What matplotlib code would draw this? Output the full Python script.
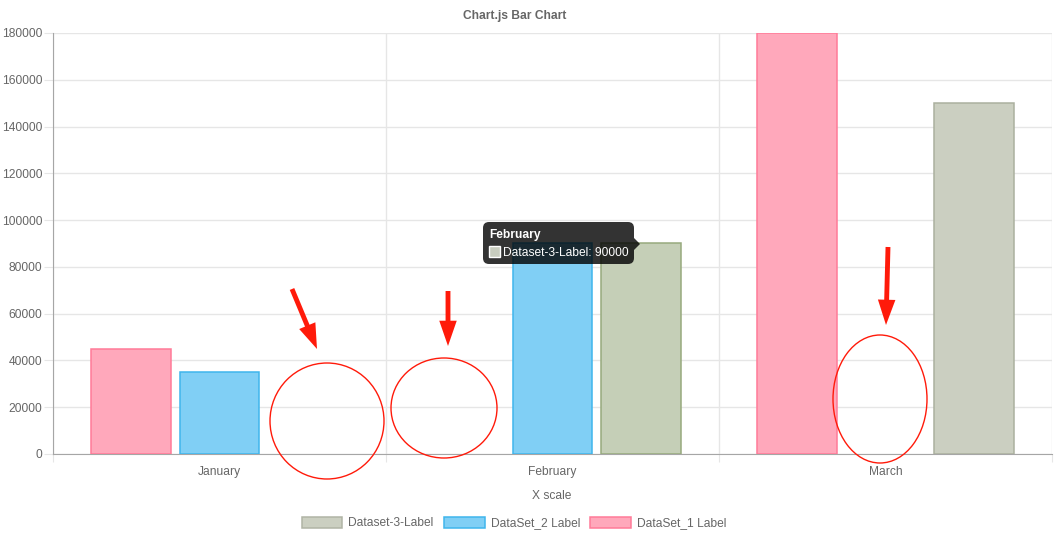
import matplotlib
matplotlib.use('Agg')
import matplotlib.pyplot as plt
import numpy as np
from matplotlib.patches import Rectangle, Ellipse, FancyBboxPatch, Polygon, FancyArrowPatch
from matplotlib.transforms import Affine2D

plt.rcParams['font.family'] = ['Liberation Sans', 'DejaVu Sans']

months = ['January', 'February', 'March']
ds1_values = [45000, None, 180000]
ds2_values = [35000, 90000, None]
ds3_values = [None, 90000, 150000]
ds1_label = 'DataSet_1 Label'
ds2_label = 'DataSet_2 Label'
ds3_label = 'Dataset-3-Label'
y_ticks = np.arange(0, 180001, 20000)

W, H = 1054, 536
txt = '#666666'
fs = 8.64  # 12px

pink_fc, pink_ec = '#ffa8bb', '#ff7b98'
blue_fc, blue_ec = '#80cff5', '#3fb5ec'
grey_fc, grey_ec = '#cbcfc1', '#abb09f'
hover_fc, hover_ec = '#c5cfb7', '#97aa7d'


def to_arr(v):
    return np.array([np.nan if a is None else a for a in v], dtype=float)


fig = plt.figure(figsize=(W / 100, H / 100), dpi=100)
ax = fig.add_axes([53 / W, 1 - 454 / H, (1052 - 53) / W, (454 - 33) / H])
# pixel coords measured from the top-left corner of the picture
px = Affine2D().scale(1, -1).translate(0, H).scale(1 / 100) + fig.dpi_scale_trans

x = np.arange(len(months))
slot = 0.8 / 3
bw = slot * 0.9

ax.bar(x - slot, to_arr(ds1_values), bw, color=pink_fc, edgecolor=pink_ec, linewidth=1.1, zorder=3)
ax.bar(x, to_arr(ds2_values), bw, color=blue_fc, edgecolor=blue_ec, linewidth=1.1, zorder=3)
bars3 = ax.bar(x + slot, to_arr(ds3_values), bw, color=grey_fc, edgecolor=grey_ec, linewidth=1.1, zorder=3)
# hovered bar (February) gets the hover colours
bars3[1].set_facecolor(hover_fc)
bars3[1].set_edgecolor(hover_ec)

ax.set_xlim(-0.5, len(months) - 0.5)
ax.set_ylim(0, 180000)
ax.set_yticks(y_ticks)
ax.set_yticklabels([str(v) for v in y_ticks])
ax.set_xticks(x)
ax.set_xticklabels(months)
ax.set_xticks(np.arange(len(months) + 1) - 0.5, minor=True)

ax.grid(axis='y', color='#e6e6e6', linewidth=1, zorder=0)
ax.grid(axis='x', which='minor', color='#e6e6e6', linewidth=1, zorder=0)
ax.tick_params(axis='y', length=6.5, width=0.8, color='#e6e6e6', pad=1, labelsize=fs, labelcolor=txt)
ax.tick_params(axis='x', which='major', length=0, pad=8.5, labelsize=fs, labelcolor=txt)
ax.tick_params(axis='x', which='minor', length=5.8, width=0.8, color='#e6e6e6')
for s in ['top', 'right']:
    ax.spines[s].set_visible(False)
for s in ['left', 'bottom']:
    ax.spines[s].set_color('#a6a6a6')
    ax.spines[s].set_linewidth(0.8)

ax.set_xlabel('X scale', fontsize=fs, color=txt, va='center')
ax.xaxis.set_label_coords(0.4995, (454 - 496) / 421)

fig.text(515 / W, 1 - 16 / H, 'Chart.js Bar Chart', ha='center', va='center',
         fontsize=fs, fontweight='bold', color=txt)

handles = [Rectangle((0, 0), 1, 1, fc=grey_fc, ec='#b0b4a5', lw=1.1),
           Rectangle((0, 0), 1, 1, fc=blue_fc, ec=blue_ec, lw=1.1),
           Rectangle((0, 0), 1, 1, fc=pink_fc, ec=pink_ec, lw=1.1)]
fig.legend(handles, [ds3_label, ds2_label, ds1_label], loc='center', ncol=3,
           bbox_to_anchor=(514 / W, 1 - 523 / H), frameon=False, fontsize=fs,
           labelcolor=txt, handlelength=3.4, handleheight=1.0, handletextpad=0.5,
           columnspacing=0.85, borderpad=0, borderaxespad=0)

# tooltip
fig.add_artist(FancyBboxPatch((483, 222), 151, 42, boxstyle='round,pad=0,rounding_size=6',
                              transform=px, fc=(0, 0, 0, 0.8), ec='none', zorder=10))
fig.add_artist(Polygon([(634, 238), (640, 244), (634, 250)], closed=True, transform=px,
                       fc=(0, 0, 0, 0.8), ec='none', zorder=10))
fig.text(489, 235, months[1], transform=px, ha='left', va='center', fontsize=fs,
         fontweight='bold', color='white', zorder=11)
fig.add_artist(Rectangle((489, 246), 11, 11, transform=px, fc='#c8cdbf', ec='white', lw=1, zorder=11))
fig.text(503, 253, '%s: %d' % (ds3_label, ds3_values[1]), transform=px, ha='left', va='center',
         fontsize=fs, color='white', zorder=11)

# red hand-drawn marks
for cx, cy, w, h in [(327, 421, 114, 116), (444, 408, 106, 100), (880, 399, 94, 128)]:
    fig.add_artist(Ellipse((cx, cy), w, h, transform=px, fill=False, ec='#ff1a0a', lw=1.0, zorder=12))
for (x0, y0), (x1, y1) in [((292, 289), (317, 349)), ((448, 291), (448, 346)), ((888, 247), (886, 325))]:
    fig.add_artist(FancyArrowPatch((x0, y0), (x1, y1), transform=px,
                                   arrowstyle='simple,head_length=1.3,head_width=0.9,tail_width=0.25',
                                   mutation_scale=14, fc='#ff1a0a', ec='none', shrinkA=0, shrinkB=0,
                                   zorder=12))

fig.savefig('out.png', dpi=100)
